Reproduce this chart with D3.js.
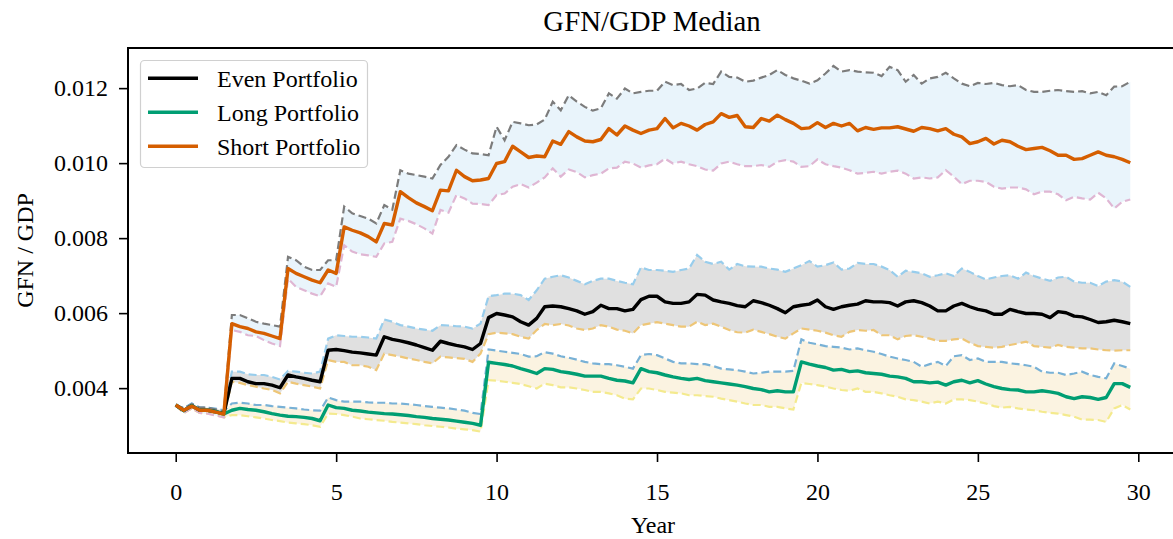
<!DOCTYPE html>
<html>
<head>
<meta charset="utf-8">
<script src="https://cdn.jsdelivr.net/npm/d3@7"></script>
<style>
  body { margin: 0; background: #fff; }
  svg { display: block; font-family: "Liberation Serif", "Times New Roman", serif; }
</style>
</head>
<body>
<svg id="chart" width="1173" height="539"></svg>
<script>
// Quarterly time steps over 30 years
const years = d3.range(0, 30, 0.25);

// Even portfolio: median and band
const evenMedian = [
  0.00355,0.00340,0.00353,0.00341,0.00341,0.00337,0.00332,0.00426,0.00426,0.00417,
  0.00412,0.00412,0.00408,0.00401,0.00435,0.00430,0.00426,0.00421,0.00417,0.00501,
  0.00503,0.00500,0.00496,0.00494,0.00491,0.00488,0.00537,0.00530,0.00526,0.00521,
  0.00515,0.00508,0.00501,0.00525,0.00519,0.00514,0.00510,0.00503,0.00519,0.00588,
  0.00599,0.00595,0.00590,0.00577,0.00568,0.00586,0.00617,0.00619,0.00617,0.00612,
  0.00606,0.00597,0.00604,0.00621,0.00612,0.00612,0.00606,0.00610,0.00636,0.00645,
  0.00645,0.00630,0.00626,0.00626,0.00630,0.00650,0.00648,0.00635,0.00630,0.00626,
  0.00620,0.00617,0.00633,0.00628,0.00621,0.00612,0.00601,0.00617,0.00621,0.00624,
  0.00635,0.00617,0.00610,0.00617,0.00621,0.00624,0.00633,0.00630,0.00630,0.00628,
  0.00619,0.00630,0.00633,0.00628,0.00619,0.00606,0.00606,0.00619,0.00626,0.00617,
  0.00610,0.00606,0.00597,0.00597,0.00610,0.00604,0.00599,0.00599,0.00597,0.00588,
  0.00604,0.00601,0.00592,0.00590,0.00583,0.00575,0.00577,0.00581,0.00577,0.00572
];
const evenUpper = [
  0.00355,0.00346,0.00359,0.00348,0.00348,0.00345,0.00341,0.00444,0.00444,0.00437,
  0.00435,0.00435,0.00430,0.00423,0.00446,0.00444,0.00441,0.00439,0.00444,0.00532,
  0.00541,0.00539,0.00537,0.00537,0.00535,0.00532,0.00583,0.00577,0.00568,0.00564,
  0.00559,0.00556,0.00553,0.00568,0.00567,0.00565,0.00564,0.00559,0.00572,0.00645,
  0.00648,0.00652,0.00652,0.00648,0.00635,0.00661,0.00692,0.00697,0.00701,0.00695,
  0.00686,0.00677,0.00686,0.00692,0.00692,0.00686,0.00681,0.00677,0.00722,0.00715,
  0.00715,0.00713,0.00710,0.00715,0.00719,0.00755,0.00737,0.00731,0.00737,0.00716,
  0.00731,0.00725,0.00724,0.00724,0.00719,0.00716,0.00710,0.00719,0.00728,0.00739,
  0.00724,0.00728,0.00735,0.00716,0.00719,0.00734,0.00731,0.00731,0.00724,0.00715,
  0.00697,0.00713,0.00710,0.00706,0.00697,0.00701,0.00706,0.00699,0.00719,0.00710,
  0.00699,0.00690,0.00695,0.00699,0.00701,0.00692,0.00708,0.00699,0.00692,0.00686,
  0.00695,0.00697,0.00684,0.00681,0.00681,0.00672,0.00684,0.00688,0.00684,0.00670
];
const evenLower = [
  0.00355,0.00334,0.00346,0.00334,0.00334,0.00331,0.00325,0.00417,0.00414,0.00408,
  0.00404,0.00399,0.00395,0.00386,0.00417,0.00412,0.00408,0.00404,0.00399,0.00475,
  0.00470,0.00470,0.00461,0.00461,0.00457,0.00448,0.00492,0.00488,0.00484,0.00479,
  0.00475,0.00470,0.00466,0.00484,0.00482,0.00480,0.00478,0.00470,0.00492,0.00544,
  0.00548,0.00546,0.00544,0.00537,0.00532,0.00555,0.00571,0.00568,0.00571,0.00567,
  0.00559,0.00555,0.00559,0.00568,0.00564,0.00556,0.00553,0.00546,0.00568,0.00572,
  0.00576,0.00572,0.00568,0.00564,0.00564,0.00577,0.00568,0.00572,0.00564,0.00555,
  0.00549,0.00548,0.00556,0.00550,0.00544,0.00537,0.00532,0.00546,0.00559,0.00556,
  0.00553,0.00548,0.00541,0.00537,0.00550,0.00555,0.00553,0.00555,0.00541,0.00541,
  0.00530,0.00539,0.00541,0.00537,0.00532,0.00526,0.00526,0.00530,0.00532,0.00521,
  0.00512,0.00510,0.00508,0.00510,0.00515,0.00519,0.00524,0.00512,0.00510,0.00508,
  0.00515,0.00510,0.00508,0.00506,0.00506,0.00503,0.00501,0.00500,0.00501,0.00501
];

// Long portfolio: median and band
const longMedian = [
  0.00355,0.00340,0.00353,0.00341,0.00341,0.00337,0.00331,0.00341,0.00346,0.00343,
  0.00341,0.00337,0.00332,0.00328,0.00325,0.00324,0.00322,0.00319,0.00313,0.00355,
  0.00348,0.00346,0.00341,0.00339,0.00336,0.00334,0.00332,0.00331,0.00329,0.00327,
  0.00324,0.00322,0.00319,0.00317,0.00315,0.00312,0.00309,0.00306,0.00301,0.00469,
  0.00466,0.00463,0.00459,0.00452,0.00446,0.00439,0.00452,0.00450,0.00444,0.00441,
  0.00437,0.00432,0.00432,0.00432,0.00426,0.00421,0.00419,0.00414,0.00452,0.00444,
  0.00441,0.00435,0.00430,0.00426,0.00423,0.00426,0.00420,0.00417,0.00414,0.00411,
  0.00408,0.00404,0.00399,0.00396,0.00390,0.00393,0.00390,0.00390,0.00470,0.00464,
  0.00459,0.00455,0.00448,0.00450,0.00444,0.00446,0.00441,0.00439,0.00437,0.00432,
  0.00430,0.00426,0.00417,0.00417,0.00414,0.00416,0.00408,0.00417,0.00421,0.00414,
  0.00420,0.00411,0.00404,0.00399,0.00396,0.00395,0.00390,0.00390,0.00393,0.00390,
  0.00386,0.00377,0.00372,0.00377,0.00375,0.00370,0.00375,0.00412,0.00412,0.00402
];
const longUpper = [
  0.00355,0.00346,0.00359,0.00348,0.00348,0.00345,0.00340,0.00359,0.00361,0.00359,
  0.00355,0.00355,0.00352,0.00350,0.00348,0.00346,0.00343,0.00341,0.00340,0.00375,
  0.00368,0.00364,0.00364,0.00364,0.00362,0.00361,0.00361,0.00359,0.00359,0.00357,
  0.00355,0.00352,0.00350,0.00348,0.00346,0.00343,0.00340,0.00334,0.00331,0.00503,
  0.00500,0.00497,0.00494,0.00491,0.00484,0.00485,0.00496,0.00492,0.00485,0.00481,
  0.00476,0.00470,0.00466,0.00464,0.00464,0.00461,0.00457,0.00452,0.00488,0.00491,
  0.00488,0.00479,0.00470,0.00466,0.00466,0.00464,0.00464,0.00459,0.00452,0.00450,
  0.00448,0.00444,0.00439,0.00441,0.00444,0.00444,0.00444,0.00446,0.00530,0.00521,
  0.00517,0.00512,0.00510,0.00508,0.00503,0.00506,0.00501,0.00497,0.00491,0.00484,
  0.00479,0.00475,0.00470,0.00457,0.00464,0.00470,0.00459,0.00485,0.00488,0.00475,
  0.00479,0.00470,0.00470,0.00470,0.00466,0.00464,0.00461,0.00457,0.00444,0.00441,
  0.00441,0.00435,0.00439,0.00444,0.00435,0.00430,0.00426,0.00466,0.00459,0.00452
];
const longLower = [
  0.00355,0.00334,0.00346,0.00334,0.00332,0.00328,0.00322,0.00328,0.00328,0.00325,
  0.00322,0.00319,0.00315,0.00312,0.00308,0.00306,0.00304,0.00301,0.00297,0.00332,
  0.00331,0.00328,0.00324,0.00319,0.00317,0.00315,0.00313,0.00310,0.00308,0.00306,
  0.00304,0.00301,0.00299,0.00297,0.00295,0.00292,0.00290,0.00288,0.00284,0.00421,
  0.00420,0.00417,0.00414,0.00411,0.00405,0.00399,0.00412,0.00408,0.00402,0.00402,
  0.00399,0.00395,0.00390,0.00390,0.00386,0.00381,0.00372,0.00370,0.00399,0.00399,
  0.00395,0.00390,0.00388,0.00386,0.00381,0.00381,0.00379,0.00377,0.00372,0.00368,
  0.00364,0.00359,0.00355,0.00355,0.00350,0.00350,0.00346,0.00343,0.00414,0.00411,
  0.00408,0.00404,0.00399,0.00395,0.00393,0.00399,0.00390,0.00390,0.00386,0.00381,
  0.00377,0.00370,0.00368,0.00364,0.00359,0.00364,0.00359,0.00370,0.00370,0.00368,
  0.00364,0.00359,0.00352,0.00348,0.00350,0.00346,0.00343,0.00341,0.00337,0.00334,
  0.00332,0.00328,0.00324,0.00316,0.00316,0.00315,0.00310,0.00346,0.00355,0.00343
];

// Short portfolio: median and band
const shortMedian = [
  0.00355,0.00341,0.00352,0.00341,0.00341,0.00336,0.00331,0.00572,0.00564,0.00559,
  0.00550,0.00546,0.00539,0.00532,0.00719,0.00706,0.00697,0.00688,0.00681,0.00715,
  0.00706,0.00830,0.00821,0.00814,0.00804,0.00790,0.00839,0.00835,0.00924,0.00908,
  0.00894,0.00884,0.00873,0.00928,0.00926,0.00981,0.00964,0.00953,0.00955,0.00959,
  0.00999,0.01004,0.01045,0.01030,0.01015,0.01019,0.01017,0.01059,0.01050,0.01084,
  0.01070,0.01059,0.01057,0.01063,0.01092,0.01075,0.01099,0.01088,0.01079,0.01088,
  0.01092,0.01119,0.01094,0.01106,0.01099,0.01088,0.01103,0.01110,0.01132,0.01122,
  0.01127,0.01097,0.01095,0.01119,0.01112,0.01128,0.01116,0.01106,0.01092,0.01094,
  0.01108,0.01095,0.01106,0.01099,0.01106,0.01086,0.01095,0.01090,0.01094,0.01094,
  0.01097,0.01091,0.01085,0.01095,0.01092,0.01086,0.01092,0.01077,0.01070,0.01052,
  0.01057,0.01066,0.01051,0.01061,0.01057,0.01045,0.01036,0.01039,0.01042,0.01033,
  0.01021,0.01021,0.01010,0.01012,0.01021,0.01030,0.01021,0.01017,0.01010,0.01001
];
const shortUpper = [
  0.00355,0.00346,0.00357,0.00348,0.00348,0.00343,0.00337,0.00595,0.00595,0.00586,
  0.00577,0.00572,0.00568,0.00564,0.00750,0.00741,0.00724,0.00715,0.00715,0.00741,
  0.00741,0.00884,0.00866,0.00859,0.00852,0.00839,0.00888,0.00876,0.00981,0.00972,
  0.00968,0.00964,0.00959,0.00995,0.01017,0.01048,0.01036,0.01026,0.01024,0.01021,
  0.01097,0.01061,0.01110,0.01106,0.01101,0.01103,0.01116,0.01164,0.01141,0.01181,
  0.01164,0.01150,0.01140,0.01146,0.01186,0.01172,0.01199,0.01186,0.01190,0.01193,
  0.01193,0.01217,0.01208,0.01211,0.01195,0.01199,0.01214,0.01211,0.01244,0.01230,
  0.01228,0.01217,0.01220,0.01228,0.01235,0.01248,0.01235,0.01226,0.01220,0.01212,
  0.01221,0.01239,0.01259,0.01244,0.01248,0.01244,0.01242,0.01241,0.01232,0.01257,
  0.01248,0.01217,0.01235,0.01212,0.01226,0.01230,0.01241,0.01226,0.01212,0.01205,
  0.01214,0.01211,0.01214,0.01208,0.01205,0.01208,0.01195,0.01190,0.01190,0.01193,
  0.01195,0.01192,0.01190,0.01192,0.01186,0.01190,0.01181,0.01204,0.01205,0.01217
];
const shortLower = [
  0.00355,0.00334,0.00346,0.00334,0.00332,0.00327,0.00322,0.00555,0.00550,0.00541,
  0.00539,0.00528,0.00519,0.00512,0.00692,0.00670,0.00661,0.00652,0.00645,0.00679,
  0.00670,0.00781,0.00764,0.00757,0.00754,0.00750,0.00786,0.00790,0.00852,0.00846,
  0.00837,0.00826,0.00812,0.00875,0.00868,0.00915,0.00906,0.00892,0.00891,0.00888,
  0.00915,0.00919,0.00937,0.00944,0.00935,0.00948,0.00962,0.00986,0.00964,0.00983,
  0.00976,0.00962,0.00968,0.00972,0.00986,0.00988,0.01004,0.00999,0.00988,0.00994,
  0.00997,0.01012,0.00999,0.01004,0.00997,0.00992,0.00983,0.00980,0.00999,0.01004,
  0.00997,0.00992,0.00992,0.00995,0.00990,0.01004,0.01008,0.01004,0.00990,0.00992,
  0.01010,0.00997,0.00992,0.00988,0.00981,0.00972,0.00974,0.00977,0.00972,0.00977,
  0.00980,0.00972,0.00959,0.00962,0.00959,0.00962,0.00981,0.00964,0.00944,0.00953,
  0.00953,0.00950,0.00937,0.00932,0.00935,0.00935,0.00930,0.00917,0.00924,0.00924,
  0.00917,0.00901,0.00910,0.00906,0.00903,0.00921,0.00906,0.00879,0.00897,0.00903
];

const seriesNames = ["Even Portfolio", "Long Portfolio", "Short Portfolio"];
const xTicks = [0, 5, 10, 15, 20, 25, 30];
const yTicks = [0.004, 0.006, 0.008, 0.010, 0.012];

const portfolios = [
  { name: seriesNames[0], median: evenMedian, upper: evenUpper, lower: evenLower,
    color: "#000000", band: "#e0e0e0", upperColor: "#98cdec", lowerColor: "#eec677" },
  { name: seriesNames[1], median: longMedian, upper: longUpper, lower: longLower,
    color: "#009e73", band: "#fbf3e1", upperColor: "#78b1d6", lowerColor: "#f4ea8e" },
  { name: seriesNames[2], median: shortMedian, upper: shortUpper, lower: shortLower,
    color: "#d55e00", band: "#e9f4fb", upperColor: "#7c7c7c", lowerColor: "#dfb6d3" }
];

const svg = d3.select("#chart");
const plot = { left: 128, top: 48, right: 1178, bottom: 453 };

const x = d3.scaleLinear().domain([-1.4875, 31.2375]).range([plot.left, plot.right]);
const y = d3.scaleLinear().domain([0.00227, 0.01307]).range([plot.bottom, plot.top]);

svg.append("defs").append("clipPath").attr("id", "plot-clip")
  .append("rect")
  .attr("x", plot.left).attr("y", plot.top)
  .attr("width", plot.right - plot.left).attr("height", plot.bottom - plot.top);

const layer = svg.append("g").attr("clip-path", "url(#plot-clip)");

const line = d3.line().x((d, i) => x(years[i])).y(d => y(d));

// Shaded bands between the lower and upper bounds
portfolios.forEach(p => {
  const area = d3.area()
    .x((d, i) => x(years[i]))
    .y0((d, i) => y(p.lower[i]))
    .y1((d, i) => y(p.upper[i]));
  layer.append("path").datum(p.median).attr("d", area).attr("fill", p.band);
});

// Dashed bounds, then the medians on top
portfolios.forEach(p => {
  [[p.upper, p.upperColor], [p.lower, p.lowerColor]].forEach(([vals, col]) => {
    layer.append("path").datum(vals).attr("d", line)
      .attr("fill", "none").attr("stroke", col)
      .attr("stroke-width", 2.2).attr("stroke-dasharray", "8,4");
  });
});
portfolios.forEach(p => {
  layer.append("path").datum(p.median).attr("d", line)
    .attr("fill", "none").attr("stroke", p.color)
    .attr("stroke-width", 3.4).attr("stroke-linejoin", "round");
});

// Axes
const xAxis = svg.append("g").attr("transform", `translate(0,${plot.bottom})`)
  .call(d3.axisBottom(x).tickValues(xTicks).tickSize(9).tickPadding(21).tickFormat(d3.format("d")));
const yAxis = svg.append("g").attr("transform", `translate(${plot.left},0)`)
  .call(d3.axisLeft(y).tickValues(yTicks).tickSize(9).tickPadding(11).tickFormat(d3.format(".3f")));
[xAxis, yAxis].forEach(g => {
  g.select(".domain").remove();
  g.selectAll(".tick line").attr("stroke", "#000").attr("stroke-width", 1.6);
  g.selectAll(".tick text").attr("fill", "#000")
    .style("font-family", "'Liberation Serif', 'Times New Roman', serif")
    .style("font-size", "24px");
});

// Spines (left, bottom, top; right edge lies beyond the canvas)
svg.append("path")
  .attr("d", `M${plot.right},${plot.top}H${plot.left}V${plot.bottom}H${plot.right}`)
  .attr("fill", "none").attr("stroke", "#000").attr("stroke-width", 2);

// Titles
svg.append("text").attr("x", 652).attr("y", 31).attr("text-anchor", "middle")
  .style("font-size", "28.8px").text("GFN/GDP Median");
svg.append("text").attr("x", 653).attr("y", 533).attr("text-anchor", "middle")
  .style("font-size", "24px").text("Year");
svg.append("text").attr("transform", `translate(33,${(plot.top + plot.bottom) / 2}) rotate(-90)`)
  .attr("text-anchor", "middle").style("font-size", "24px").text("GFN / GDP");

// Legend
const legend = svg.append("g");
legend.append("rect").attr("x", 140.5).attr("y", 60.5).attr("width", 227).attr("height", 107)
  .attr("rx", 4).attr("fill", "#fff").attr("fill-opacity", 0.8)
  .attr("stroke", "#d0d0d0").attr("stroke-width", 1.2);
portfolios.forEach((p, i) => {
  const cy = 78.3 + i * 34;
  legend.append("line").attr("x1", 148).attr("x2", 198).attr("y1", cy).attr("y2", cy)
    .attr("stroke", p.color).attr("stroke-width", 3.4);
  legend.append("text").attr("x", 217).attr("y", cy + 8.4)
    .style("font-size", "24px").text(p.name);
});
</script>
</body>
</html>
